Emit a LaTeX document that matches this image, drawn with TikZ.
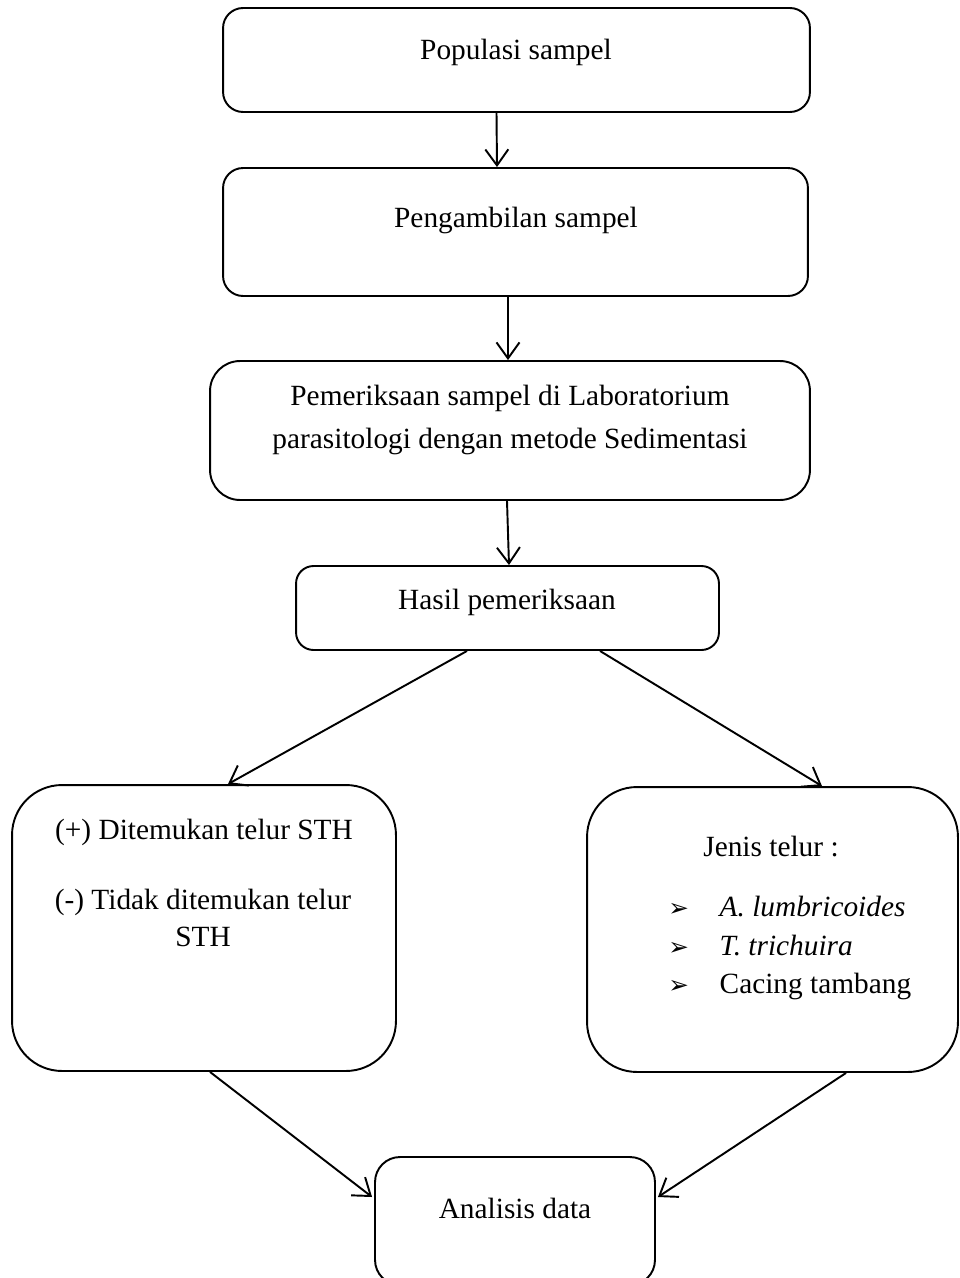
\documentclass[tikz,border=0pt]{standalone}
\usepackage{fontspec}
\setmainfont{Liberation Serif}
\newfontfamily\symfont{DejaVu Sans}
\usetikzlibrary{arrows.meta,calc}

\newcommand{\itembul}{\makebox[1.75em][l]{{\symfont\fontsize{14}{14}\selectfont ➢}}}

\tikzset{
  box/.style={draw, line width=1.1pt, rounded corners=#1, inner sep=0pt},
  box/.default=0.4cm,
  txt/.style={font=\fontsize{16.7}{25}\selectfont, align=center, inner sep=0pt},
  arr/.style={line width=1.1pt, -{Straight Barb[length=0.32cm,width=0.46cm,line width=1.1pt]}}
}

\begin{document}
\begin{tikzpicture}[x=0.02cm,y=-0.02cm]
\useasboundingbox (0,0) rectangle (960,1278);
% boxes
\node[box, minimum width=11.74cm, minimum height=2.08cm] (pop) at (516.5,60) {};
\node[box, minimum width=11.70cm, minimum height=2.56cm] (ambil) at (515.5,232) {};
\node[box=0.6cm, minimum width=12.0cm, minimum height=2.78cm] (periksa) at (510,430.5) {};
\node[box=0.35cm, minimum width=8.46cm, minimum height=1.68cm] (hasil) at (507.5,608) {};
\node[box=1cm, minimum width=7.68cm, minimum height=5.72cm] (temuan) at (204,928) {};
\node[box=1cm, minimum width=7.42cm, minimum height=5.70cm] (jenis) at (772.5,929.5) {};
\node[box=0.5cm, minimum width=5.6cm, minimum height=2.56cm] (analisis) at (515,1221) {};

% texts
\node[txt] (tpop) at (516,52) {Populasi sampel};
\node[txt] (tambil) at (516,220) {Pengambilan sampel};
\node[txt] (tperiksa) at (510,420) {Pemeriksaan sampel di Laboratorium\\parasitologi dengan metode Sedimentasi};
\node[txt] (thasil) at (507,602) {Hasil pemeriksaan};
\node[txt] (tpos) at (204,832) {(+) Ditemukan telur STH};
\node[txt, font=\fontsize{16.7}{21}\selectfont] (tneg) at (203,918) {(-) Tidak ditemukan telur\\STH};
\node[txt] (tjenis) at (771,847) {Jenis telur :};
\node[txt, align=left, anchor=west, font=\fontsize{16.7}{22}\selectfont] (titem) at (668,948)
  {\itembul\textit{A. lumbricoides}\\\itembul\textit{T. trichuira}\\\itembul Cacing tambang};
\node[txt] (tanalisis) at (515,1208) {Analisis data};

% arrows
\draw[arr] ($(pop.south)+(-20,0)$) -- ($(ambil.north)+(-18.5,0)$);
\draw[arr] ($(ambil.south)+(-7.5,0)$) -- ($(periksa.north)+(-2,0)$);
\draw[arr] ($(periksa.south)+(-3,0)$) -- ($(hasil.north)+(1.5,0)$);
\draw[arr] ($(hasil.south)+(-40.5,0)$) -- ($(temuan.north)+(24,0)$);
\draw[arr] ($(hasil.south)+(92.5,0)$) -- ($(jenis.north)+(49.5,0)$);
\draw[arr] ($(temuan.south)+(6,0)$) -- ($(analisis.west)+(-2,-24)$);
\draw[arr] ($(jenis.south)+(73.5,0)$) -- ($(analisis.east)+(2,-24)$);
\end{tikzpicture}
\end{document}
